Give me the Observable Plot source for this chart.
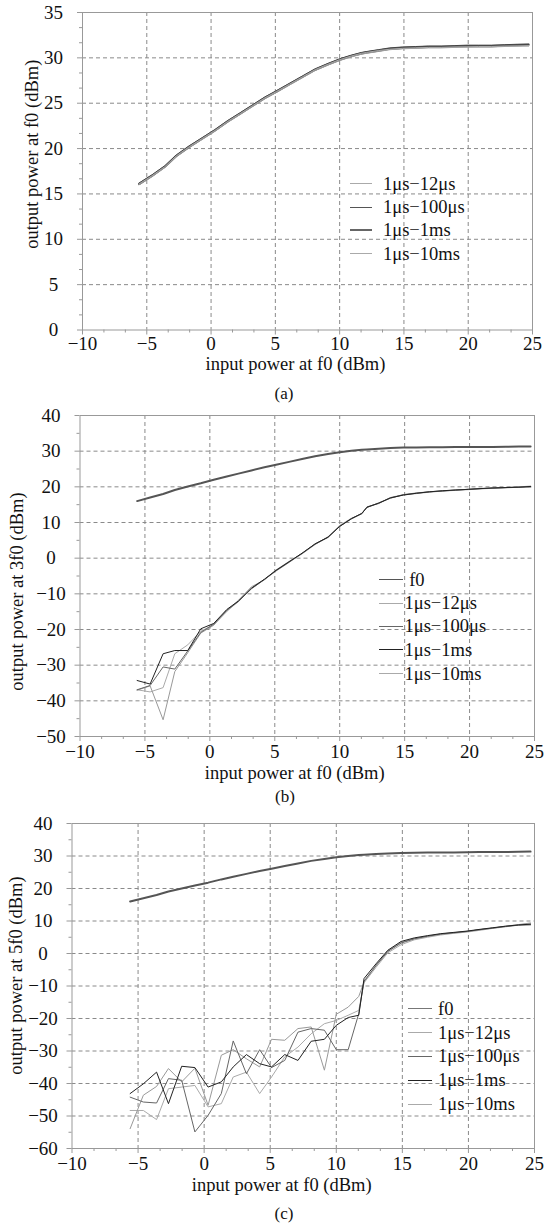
<!DOCTYPE html>
<html><head><meta charset="utf-8">
<script src="https://cdn.jsdelivr.net/npm/d3@7"></script>
<script src="https://cdn.jsdelivr.net/npm/@observablehq/plot@0.6"></script>
<style>
body{margin:0;background:#fff;font-family:"Liberation Serif","Times New Roman",serif;color:#111;}
#root{position:relative;width:544px;height:1223px;overflow:hidden;background:#fff;}
.panel{position:absolute;left:0;}
.cap{position:absolute;width:100px;text-align:center;font-size:17px;line-height:17px;}
.row{position:absolute;white-space:nowrap;display:flex;align-items:center;font-size:18.5px;line-height:18px;transform:translateY(-50%);}
.sw{display:inline-block;height:0;}
</style></head><body><div id="root"></div><script>
// ---------- data ----------
const XIN = [-5.6,-4.6,-3.6,-2.7,-1.7,-0.7,0.3,1.3,2.2,3.2,4.2,5.1,6.1,7.1,8.1,9.1,10.0,10.9,11.7,12.1,13.0,13.9,14.9,15.9,16.9,17.9,18.9,19.9,20.8,21.8,22.8,23.8,24.7];

// (a) output power at f0
const A_12us  = [16.0,16.9,17.9,19.1,20.1,21.0,21.9,22.9,23.7,24.6,25.5,26.2,27.0,27.8,28.6,29.2,29.7,30.1,30.4,30.5,30.7,30.9,31.0,31.05,31.1,31.1,31.15,31.2,31.2,31.2,31.25,31.3,31.3];
const A_100us = [16.2,17.1,18.1,19.3,20.3,21.2,22.1,23.1,23.9,24.8,25.7,26.4,27.2,28.0,28.8,29.4,29.9,30.3,30.6,30.7,30.9,31.1,31.2,31.25,31.3,31.3,31.35,31.4,31.4,31.4,31.45,31.5,31.5];
const A_1ms   = [16.1,17.0,18.0,19.2,20.2,21.1,22.0,23.0,23.8,24.7,25.6,26.3,27.1,27.9,28.7,29.3,29.8,30.2,30.5,30.6,30.8,31.0,31.1,31.15,31.2,31.2,31.25,31.3,31.3,31.3,31.35,31.4,31.45];
const A_10ms  = [16.1,17.0,18.0,19.2,20.2,21.1,22.0,23.0,23.8,24.7,25.6,26.3,27.1,27.9,28.7,29.3,29.8,30.2,30.5,30.6,30.8,30.95,31.05,31.1,31.15,31.15,31.2,31.2,31.25,31.25,31.3,31.3,31.35];

// (b) output power at 3f0
const B_f0    = [16.0,17.0,18.0,19.1,20.1,21.0,22.0,22.9,23.7,24.6,25.5,26.2,27.0,27.8,28.6,29.2,29.7,30.1,30.4,30.5,30.7,30.9,31.0,31.05,31.1,31.1,31.15,31.2,31.2,31.2,31.25,31.3,31.3];
const B_12us  = [-36.9,-37.5,-36.3,-26.8,-24.3,-20.5,-18.6,-15.0,-11.8,-8.0,-6.1,-3.3,-0.9,1.2,3.8,6.0,9.2,11.2,12.4,14.4,15.3,16.9,17.7,18.1,18.5,18.8,19.0,19.2,19.4,19.6,19.7,19.9,20.0];
const B_100us = [-36.9,-35.7,-30.5,-31.1,-26.0,-20.8,-18.5,-14.6,-12.1,-8.6,-6.0,-3.5,-1.1,1.3,3.9,5.8,9.0,11.0,12.6,14.2,15.5,16.8,17.8,18.2,18.6,18.8,19.1,19.3,19.5,19.6,19.8,19.9,20.0];
const B_1ms   = [-34.3,-35.3,-26.8,-25.9,-25.9,-19.8,-18.3,-14.4,-12.0,-8.4,-5.9,-3.4,-1.0,1.4,4.0,5.9,8.9,11.1,12.5,14.3,15.4,16.9,17.7,18.2,18.6,18.9,19.1,19.3,19.5,19.7,19.8,19.9,20.1];
const B_10ms  = [-37.0,-35.8,-45.3,-31.8,-26.5,-21.0,-18.8,-14.8,-12.2,-8.5,-6.0,-3.6,-1.2,1.3,4.0,5.9,8.9,11.0,12.5,14.3,15.4,17.0,17.8,18.3,18.6,18.9,19.1,19.3,19.5,19.7,19.8,20.0,20.2];

// (c) output power at 5f0
const C_f0    = [16.0,17.0,18.0,19.1,20.0,20.9,21.8,22.8,23.6,24.5,25.4,26.1,26.9,27.7,28.5,29.1,29.6,30.0,30.3,30.4,30.6,30.8,30.9,31.0,31.05,31.1,31.1,31.15,31.2,31.2,31.25,31.3,31.35];
const C_12us  = [-48.3,-48.3,-51.1,-41.6,-41.1,-40.6,-47.2,-46.2,-38.0,-36.5,-43.1,-38.0,-31.8,-28.8,-24.7,-21.6,-20.6,-19.0,-17.5,-9.0,-4.3,0.2,2.7,4.2,5.0,5.7,6.2,6.6,7.1,7.7,8.2,8.8,9.2];
const C_100us = [-44.2,-45.7,-46.0,-38.5,-39.0,-54.9,-49.8,-43.1,-26.9,-37.0,-29.6,-35.1,-32.9,-24.2,-23.1,-23.6,-29.6,-29.6,-18.5,-8.5,-3.8,0.6,3.2,4.5,5.3,6.0,6.4,6.8,7.3,7.8,8.3,8.7,8.8];
const C_1ms   = [-43.1,-40.1,-36.5,-46.2,-34.7,-35.1,-41.1,-39.5,-34.9,-31.1,-33.9,-34.9,-31.1,-32.9,-27.0,-26.4,-22.1,-19.7,-19.0,-7.7,-3.2,1.0,3.7,4.8,5.5,6.1,6.5,6.9,7.4,7.9,8.4,8.8,9.0];
const C_10ms  = [-53.9,-43.6,-40.9,-35.4,-39.5,-35.3,-46.7,-31.3,-29.6,-32.4,-34.9,-26.4,-26.7,-23.1,-22.6,-35.9,-18.7,-16.5,-13.2,-8.8,-3.6,0.8,3.4,4.6,5.3,5.9,6.3,6.8,7.3,7.8,8.4,8.9,9.4];

const X_TICKS = [-10,-5,0,5,10,15,20,25];
const A_Y_TICKS = [0,5,10,15,20,25,30,35];
const B_Y_TICKS = [-50,-40,-30,-20,-10,0,10,20,30,40];
const C_Y_TICKS = [-60,-50,-40,-30,-20,-10,0,10,20,30,40];

const X_LABEL = "input power at f0 (dBm)";
const A_Y_LABEL = "output power at f0 (dBm)";
const B_Y_LABEL = "output power at 3f0 (dBm)";
const C_Y_LABEL = "output power at 5f0 (dBm)";
const CAPTIONS = ["(a)", "(b)", "(c)"];
const NAMES = {f0: "f0", us12: "1μs−12μs", us100: "1μs−100μs", ms1: "1μs−1ms", ms10: "1μs−10ms"};

// ---------- helpers ----------
const root = document.getElementById("root");
const FONT = "Liberation Serif, Times New Roman, serif";

function minor(lo, hi, step, major) {
  const out = [];
  const n = Math.round((hi - lo) / step);
  for (let i = 0; i <= n; i++) {
    const v = lo + i * step;
    if (Math.abs(v / major - Math.round(v / major)) > 1e-6) out.push(v);
  }
  return out;
}

function panel(cfg) {
  const marks = [
    Plot.gridX(X_TICKS.slice(1, -1), {stroke: "#8a8a8a", strokeOpacity: 1, strokeDasharray: "4,3"}),
    Plot.gridY(cfg.yTicks.slice(1, -1), {stroke: "#8a8a8a", strokeOpacity: 1, strokeDasharray: "4,3"}),
    Plot.axisX(minor(-10, 25, 5/3, 5), {tickSize: 3, text: null, stroke: "#999", label: null}),
    Plot.axisY(cfg.yMinor, {tickSize: 3, text: null, stroke: "#999", label: null}),
    Plot.axisX(X_TICKS, {tickSize: 5, tickPadding: cfg.xpad, fontSize: 19, stroke: "#999", fill: "#111", label: null}),
    Plot.axisY(cfg.yTicks, {tickSize: 5, tickPadding: 24, textAnchor: "middle", fontSize: 19, stroke: "#999", fill: "#111", label: null}),
    Plot.frame({stroke: "#999"})
  ];
  for (const s of cfg.series) {
    marks.push(Plot.line(XIN.map((x, i) => ({x, y: s.data[i]})), {x: "x", y: "y", stroke: s.color, strokeWidth: s.width}));
  }
  marks.push(Plot.text([X_LABEL], {frameAnchor: "bottom", text: d => d, fontSize: 18.5, fill: "#111", dx: cfg.xlab[0], dy: cfg.xlab[1], lineAnchor: "middle"}));
  marks.push(Plot.text([cfg.yLabel], {frameAnchor: "left", text: d => d, rotate: -90, fontSize: 18.5, fill: "#111", dx: cfg.ylab[0], dy: cfg.ylab[1], lineAnchor: "middle", textAnchor: "middle"}));
  const svg = Plot.plot({
    width: 544, height: cfg.height,
    marginLeft: cfg.ml, marginRight: cfg.mr, marginTop: cfg.mt, marginBottom: cfg.height - cfg.mt - cfg.fh,
    x: {domain: [-10, 25]},
    y: {domain: cfg.yDomain},
    style: {fontFamily: FONT, fontSize: "19px", background: "transparent", overflow: "visible"},
    marks
  });
  const wrap = document.createElement("div");
  wrap.className = "panel";
  wrap.style.top = cfg.top + "px";
  wrap.appendChild(svg);
  root.appendChild(wrap);

  const cap = document.createElement("div");
  cap.className = "cap";
  cap.textContent = cfg.caption;
  cap.style.left = (cfg.capXY[0] - 50) + "px";
  cap.style.top = (cfg.capXY[1] - 9) + "px";
  root.appendChild(cap);

  cfg.legend.rows.forEach((r, i) => {
    const row = document.createElement("div");
    row.className = "row";
    row.style.left = cfg.legend.x + "px";
    row.style.top = cfg.legend.ys[i] + "px";
    const sw = document.createElement("span");
    sw.className = "sw";
    sw.style.width = cfg.legend.sw + "px";
    sw.style.borderTop = r.width + "px solid " + r.color;
    sw.style.marginRight = cfg.legend.gap + "px";
    const t = document.createElement("span");
    t.textContent = r.name;
    row.appendChild(sw); row.appendChild(t);
    root.appendChild(row);
  });
}

// ---------- panel (a) ----------
panel({
  top: 0, height: 374, mt: 12, fh: 317.5, ml: 82, mr: 12, xpad: 1,
  yDomain: [0, 35], yTicks: A_Y_TICKS, yMinor: minor(0, 35, 5/3, 5),
  yLabel: A_Y_LABEL, xlab: [-12, 34.5], ylab: [-50, -17], caption: CAPTIONS[0], capXY: [284, 394],
  series: [
    {data: A_1ms, color: "#555", width: 2.2},
    {data: A_100us, color: "#444", width: 1},
    {data: A_12us, color: "#999", width: 1},
    {data: A_10ms, color: "#aaa", width: 1}
  ],
  legend: {x: 350, sw: 22, gap: 11, ys: [183.5, 207, 230, 253.5], rows: [
    {name: NAMES.us12, color: "#aaa", width: 1},
    {name: NAMES.us100, color: "#555", width: 1},
    {name: NAMES.ms1, color: "#666", width: 2.5},
    {name: NAMES.ms10, color: "#aaa", width: 1}
  ]}
});

// ---------- panel (b) ----------
panel({
  top: 400, height: 380, mt: 15, fh: 321, ml: 79.5, mr: 10, xpad: 3,
  yDomain: [-50, 40], yTicks: B_Y_TICKS, yMinor: minor(-50, 40, 5, 10),
  yLabel: B_Y_LABEL, xlab: [-12.5, 36.5], ylab: [-63, 15.5], caption: CAPTIONS[1], capXY: [285, 797],
  series: [
    {data: B_12us, color: "#aaa", width: 1},
    {data: B_10ms, color: "#999", width: 1},
    {data: B_100us, color: "#666", width: 1},
    {data: B_1ms, color: "#222", width: 1},
    {data: B_f0, color: "#555", width: 2}
  ],
  legend: {x: 378.5, sw: 24, gap: 2, ys: [579.5, 603, 626, 649.5, 673.5], rows: [
    {name: "\u00a0" + NAMES.f0, color: "#555", width: 1},
    {name: NAMES.us12, color: "#aaa", width: 1},
    {name: NAMES.us100, color: "#666", width: 1},
    {name: NAMES.ms1, color: "#222", width: 1},
    {name: NAMES.ms10, color: "#aaa", width: 1}
  ]}
});

// ---------- panel (c) ----------
panel({
  top: 808, height: 383, mt: 15, fh: 325, ml: 71.5, mr: 10, xpad: 3,
  yDomain: [-60, 40], yTicks: C_Y_TICKS, yMinor: minor(-60, 40, 5, 10),
  yLabel: C_Y_LABEL, xlab: [-21.5, 37], ylab: [-55.5, -10.5], caption: CAPTIONS[2], capXY: [284, 1214],
  series: [
    {data: C_12us, color: "#aaa", width: 1},
    {data: C_10ms, color: "#999", width: 1},
    {data: C_100us, color: "#666", width: 1},
    {data: C_1ms, color: "#222", width: 1},
    {data: C_f0, color: "#555", width: 2}
  ],
  legend: {x: 408, sw: 24, gap: 6, ys: [1008.5, 1032.5, 1056, 1080, 1104], rows: [
    {name: NAMES.f0, color: "#777", width: 1.5},
    {name: NAMES.us12, color: "#aaa", width: 1},
    {name: NAMES.us100, color: "#666", width: 1},
    {name: NAMES.ms1, color: "#222", width: 1},
    {name: NAMES.ms10, color: "#aaa", width: 1}
  ]}
});
</script></body></html>
